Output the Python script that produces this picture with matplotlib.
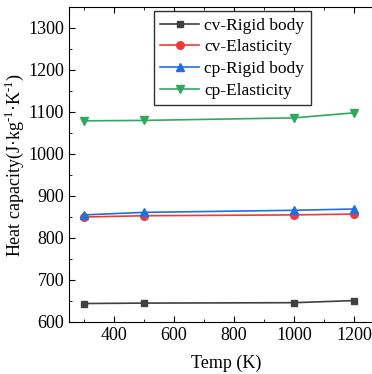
import matplotlib.pyplot as plt
from matplotlib.ticker import MultipleLocator

temps = [300, 500, 1000, 1200]
cv_rigid = [644, 645, 646, 651]
cv_elastic = [850, 853, 855, 857]
cp_rigid = [855, 861, 866, 869]
cp_elastic = [1079, 1080, 1086, 1098]

plt.rcParams['font.family'] = ['Liberation Serif', 'DejaVu Serif']
plt.rcParams['font.size'] = 13
plt.rcParams['mathtext.fontset'] = 'custom'
plt.rcParams['mathtext.rm'] = 'Liberation Serif'

fig = plt.figure(figsize=(3.72, 3.74), dpi=100)
ax = fig.add_axes([69 / 372, 52 / 374, 315 / 372, 315 / 374])

ax.plot(temps, cv_rigid, color='#404040', marker='s', markersize=5, lw=1.2, label='cv-Rigid body')
ax.plot(temps, cv_elastic, color='#f03a3a', marker='o', markersize=5.5, lw=1.2, label='cv-Elasticity')
ax.plot(temps, cp_rigid, color='#2070e0', marker='^', markersize=6, lw=1.2, label='cp-Rigid body')
ax.plot(temps, cp_elastic, color='#30a860', marker='v', markersize=6, lw=1.2, label='cp-Elasticity')

ax.set_xlim(250, 1300)
ax.set_ylim(600, 1350)
ax.xaxis.set_major_locator(MultipleLocator(200))
ax.xaxis.set_minor_locator(MultipleLocator(100))
ax.yaxis.set_major_locator(MultipleLocator(100))
ax.yaxis.set_minor_locator(MultipleLocator(50))
ax.tick_params(which='both', direction='in', top=True, right=True)
ax.tick_params(which='major', length=4)
ax.tick_params(which='minor', length=2.5)

ax.set_xlabel('Temp (K)', labelpad=8)
ax.set_ylabel('Heat capacity(J\u00b7kg$^{\\text{-1}}$\u00b7K$^{\\text{-1}}$)', labelpad=1.5)

ax.legend(loc='upper left', bbox_to_anchor=(0.27, 0.986), fancybox=False, edgecolor='#303030',
          framealpha=1, handlelength=2.25, handletextpad=0.3, borderpad=0.35,
          labelspacing=0.32, borderaxespad=0, fontsize=12.5)

fig.savefig('out.png', dpi=100)
